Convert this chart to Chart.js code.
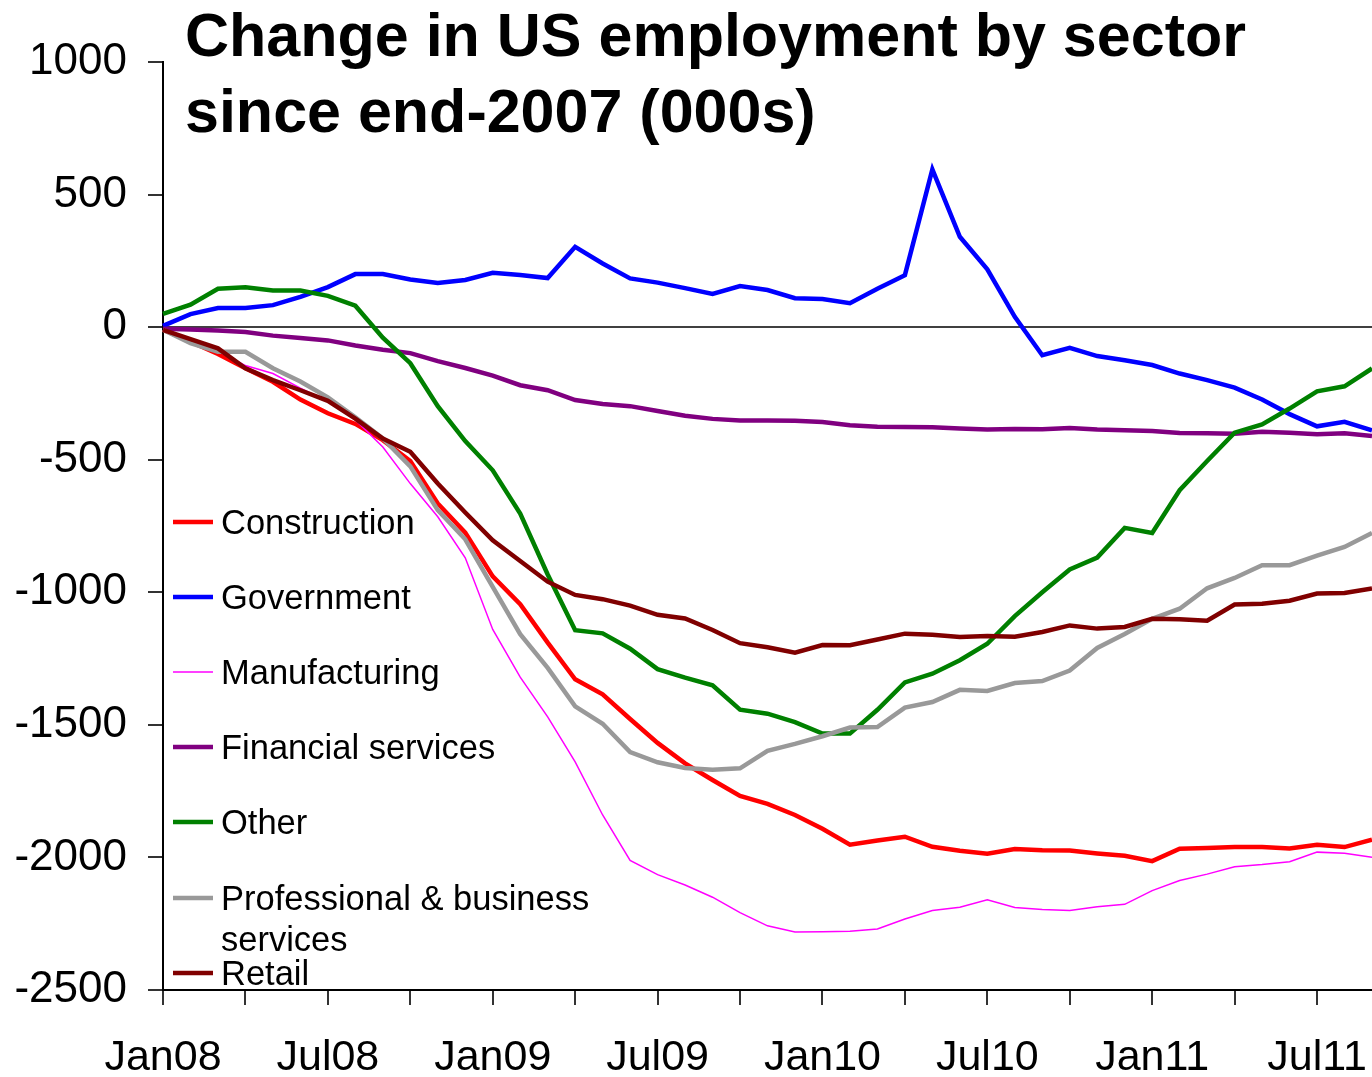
<!DOCTYPE html>
<html>
<head>
<meta charset="utf-8">
<title>Change in US employment by sector</title>
<script src="https://cdn.jsdelivr.net/npm/chart.js@4/dist/chart.umd.min.js"></script>
<style>
  html, body { margin: 0; padding: 0; background: #ffffff; }
  #wrap { position: relative; width: 1372px; height: 1077px; }
</style>
</head>
<body>
<div id="wrap"><canvas id="chart" width="1372" height="1077"></canvas></div>
<script>
// Monthly observations, Jan 2008 to Sep 2011, change since end-2007 (thousands)
const months = [
  'Jan08','Feb08','Mar08','Apr08','May08','Jun08','Jul08','Aug08','Sep08','Oct08','Nov08','Dec08',
  'Jan09','Feb09','Mar09','Apr09','May09','Jun09','Jul09','Aug09','Sep09','Oct09','Nov09','Dec09',
  'Jan10','Feb10','Mar10','Apr10','May10','Jun10','Jul10','Aug10','Sep10','Oct10','Nov10','Dec10',
  'Jan11','Feb11','Mar11','Apr11','May11','Jun11','Jul11','Aug11','Sep11'
];

const construction = [-10,-55,-101,-155,-206,-273,-325,-365,-426,-505,-665,-775,-940,-1045,-1190,-1328,-1385,-1478,-1568,-1645,-1708,-1768,-1798,-1840,-1892,-1952,-1936,-1922,-1960,-1975,-1986,-1968,-1973,-1974,-1985,-1994,-2014,-1967,-1964,-1961,-1961,-1966,-1952,-1961,-1933];
const government = [5,49,72,72,83,114,151,200,200,180,167,178,205,197,185,303,240,184,168,147,125,155,140,109,106,90,145,196,595,341,218,39,-106,-78,-109,-125,-143,-175,-200,-228,-273,-328,-374,-357,-389];
const manufacturing = [-10,-45,-90,-145,-175,-230,-280,-350,-452,-590,-715,-870,-1140,-1320,-1470,-1640,-1840,-2011,-2065,-2104,-2150,-2208,-2258,-2281,-2280,-2278,-2270,-2232,-2200,-2188,-2160,-2189,-2196,-2200,-2186,-2177,-2125,-2087,-2063,-2035,-2027,-2016,-1980,-1984,-1999];
const financial = [-6,-9,-13,-18,-32,-41,-50,-69,-85,-98,-128,-154,-183,-219,-238,-275,-290,-298,-316,-334,-346,-352,-352,-353,-358,-370,-376,-377,-378,-382,-386,-384,-385,-380,-386,-389,-392,-399,-400,-402,-395,-398,-404,-400,-411];
const other = [50,85,145,150,138,138,118,81,-40,-136,-298,-430,-540,-703,-933,-1143,-1155,-1213,-1290,-1322,-1351,-1443,-1458,-1490,-1533,-1533,-1443,-1340,-1307,-1256,-1194,-1090,-1000,-914,-869,-757,-776,-615,-505,-398,-367,-307,-242,-223,-156];
const professional = [-10,-60,-93,-93,-155,-205,-265,-340,-420,-525,-690,-800,-980,-1158,-1285,-1430,-1496,-1603,-1641,-1663,-1669,-1664,-1598,-1572,-1543,-1510,-1508,-1435,-1414,-1368,-1372,-1342,-1335,-1295,-1210,-1157,-1100,-1062,-985,-946,-898,-898,-862,-829,-776];
const retail = [-10,-45,-80,-155,-200,-238,-278,-345,-420,-470,-590,-699,-804,-882,-960,-1010,-1026,-1050,-1085,-1099,-1142,-1192,-1207,-1228,-1199,-1200,-1178,-1156,-1160,-1169,-1165,-1168,-1150,-1125,-1137,-1131,-1100,-1102,-1107,-1046,-1043,-1032,-1005,-1003,-986];

const seriesNames = ['Construction', 'Government', 'Manufacturing', 'Financial services', 'Other', 'Professional & business services', 'Retail'];
const seriesValues = [construction, government, manufacturing, financial, other, professional, retail];
const seriesColors = ['#ff0000', '#0000ff', '#ff00ff', '#800080', '#008000', '#999999', '#800000'];
const seriesWidths = [4.5, 4.5, 1.5, 4.5, 4.5, 4.5, 4.5];

const titleLines = ['Change in US employment by sector', 'since end-2007 (000s)'];

const FONT = "'Liberation Sans', Arial, sans-serif";

// Title drawn over the top of the plot area
const titlePlugin = {
  id: 'overlayTitle',
  afterDraw(chart) {
    const ctx = chart.ctx;
    ctx.save();
    ctx.fillStyle = '#000';
    ctx.font = 'bold 61px ' + FONT;
    ctx.textBaseline = 'alphabetic';
    ctx.textAlign = 'left';
    ctx.fillText(titleLines[0], 185, 56);
    ctx.fillText(titleLines[1], 185, 132);
    ctx.restore();
  }
};

// Legend in the lower-left corner of the plot area
const legendPlugin = {
  id: 'insideLegend',
  afterDraw(chart) {
    const ctx = chart.ctx;
    const rows = [522, 597, 672, 747, 822, 898, 973];
    ctx.save();
    ctx.font = '34.5px ' + FONT;
    ctx.textBaseline = 'middle';
    ctx.textAlign = 'left';
    chart.data.datasets.forEach((ds, i) => {
      const y = rows[i];
      ctx.strokeStyle = ds.borderColor;
      ctx.lineWidth = ds.borderWidth;
      ctx.lineCap = 'butt';
      ctx.beginPath();
      ctx.moveTo(173, y);
      ctx.lineTo(213, y);
      ctx.stroke();
      ctx.fillStyle = '#000';
      const label = ds.label;
      if (label === 'Professional & business services') {
        ctx.fillText('Professional & business', 221, y + 2);
        ctx.fillText('services', 221, y + 43);
      } else {
        ctx.fillText(label, 221, y + 2);
      }
    });
    ctx.restore();
  }
};

const datasets = seriesNames.map((name, i) => ({
  label: name,
  data: seriesValues[i],
  borderColor: seriesColors[i],
  backgroundColor: seriesColors[i],
  borderWidth: seriesWidths[i],
  pointRadius: 0,
  pointHoverRadius: 0,
  tension: 0,
  fill: false,
  order: seriesNames.length - i
}));

new Chart(document.getElementById('chart'), {
  type: 'line',
  data: { labels: months, datasets },
  options: {
    responsive: false,
    animation: false,
    devicePixelRatio: 1,
    layout: { padding: { top: 62, right: 0, bottom: 0, left: 0 } },
    plugins: {
      legend: { display: false },
      title: { display: false },
      tooltip: { enabled: false }
    },
    scales: {
      x: {
        type: 'category',
        offset: false,
        afterFit(scale) {
          scale.height = 87;
          scale.paddingLeft = 0;
          scale.paddingRight = 0;
        },
        border: { display: true, color: '#000', width: 2 },
        grid: {
          drawOnChartArea: false,
          drawTicks: true,
          tickLength: 15,
          lineWidth: 2,
          tickColor: (c) => (c.index % 3 === 0 ? '#333' : 'rgba(0,0,0,0)'),
          color: 'rgba(0,0,0,0)'
        },
        ticks: {
          autoSkip: false,
          maxRotation: 0,
          minRotation: 0,
          padding: 27,
          color: '#000',
          font: { family: FONT, size: 43 },
          callback(value, index) { return index % 6 === 0 ? months[index] : ''; }
        }
      },
      y: {
        min: -2500,
        max: 1000,
        afterFit(scale) { scale.width = 163; },
        border: { display: true, color: '#000', width: 2 },
        grid: {
          drawOnChartArea: true,
          drawTicks: true,
          tickLength: 15,
          lineWidth: 2,
          tickColor: '#333',
          color: (c) => (c.tick && c.tick.value === 0 ? '#404040' : 'rgba(0,0,0,0)')
        },
        ticks: {
          stepSize: 500,
          padding: 21,
          color: '#000',
          font: { family: FONT, size: 44 },
          callback(value) { return String(value); }
        }
      }
    }
  },
  plugins: [titlePlugin, legendPlugin]
});
</script>
</body>
</html>
